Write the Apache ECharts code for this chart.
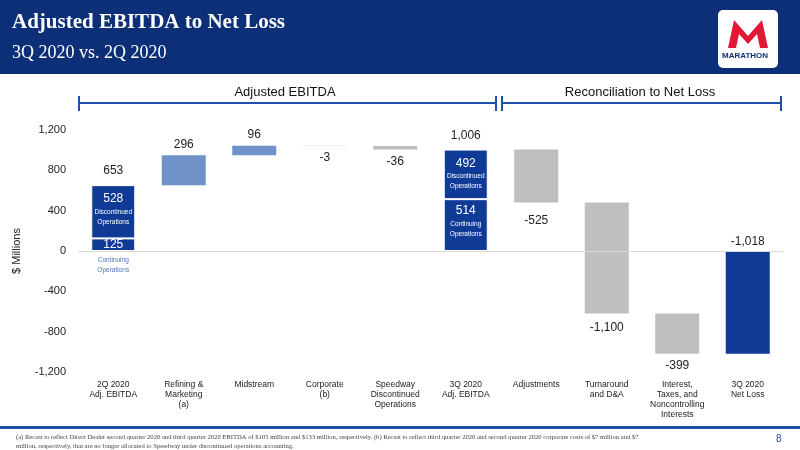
<!DOCTYPE html>
<html><head><meta charset="utf-8">
<script src="https://cdn.jsdelivr.net/npm/echarts@6/dist/echarts.min.js"></script>
<style>html,body{margin:0;padding:0;background:#fff}#c{width:800px;height:450px}</style>
</head><body><div id="c"></div>
<script>
var categories = ['2Q 2020\nAdj. EBITDA', 'Refining &\nMarketing\n(a)', 'Midstream', 'Corporate\n(b)',
  'Speedway\nDiscontinued\nOperations', '3Q 2020\nAdj. EBITDA', 'Adjustments', 'Turnaround\nand D&A',
  'Interest,\nTaxes, and\nNoncontrolling\nInterests', '3Q 2020\nNet Loss'];
var baseVals = ['-', 653, 949, 1042, 1006, '-', 481, '-', -619, '-'];
var contVals = [125, '-', '-', '-', '-', 514, '-', '-', '-', '-'];
var discVals = [528, '-', '-', '-', '-', 492, '-', '-', '-', '-'];
var upVals = ['-', 296, 96, '-', '-', '-', '-', '-', '-', '-'];
var downVals = ['-', '-', '-', 3, 36, '-', 525, 481, -399, '-'];
var downNegVals = ['-', '-', '-', '-', '-', '-', '-', -619, '-', '-'];
var totalVals = ['-', '-', '-', '-', '-', '-', '-', '-', '-', -1018];
var ebitdaTotals = [[0, 653], [5, 1006]];
var deltaLabels = ['', '296', '96', '-3', '-36', '', '-525', '-1,100', '-399', ''];

var navy = '#0f3a96', light = '#6f93c9', gray = '#bfbfbf';
var chart = echarts.init(document.getElementById('c'));
var lab = {color: '#222', fontSize: 12, fontFamily: 'Liberation Sans'};

function withLabels(vals, fn) {
  return vals.map(function (v, i) {
    if (v === '-') return v;
    var l = fn(i);
    return l ? {value: v, label: l} : v;
  });
}

chart.setOption({
  animation: false,
  grid: {left: 78, right: 17, top: 130, bottom: 78},
  xAxis: {type: 'category', data: categories, position: 'bottom',
    axisLine: {show: false}, axisTick: {show: false},
    axisLabel: {interval: 0, fontSize: 8.5, color: '#222', lineHeight: 10, margin: 8, fontFamily: 'Liberation Sans',
      verticalAlign: 'top'}},
  yAxis: {type: 'value', min: -1200, max: 1200, interval: 400,
    name: '$ Millions', nameLocation: 'middle', nameGap: 56, nameRotate: 90,
    nameTextStyle: {fontSize: 11, color: '#222'},
    splitLine: {show: false}, axisLine: {show: false}, axisTick: {show: false},
    axisLabel: {fontSize: 11, color: '#222', margin: 12,
      formatter: function (v) { return v.toLocaleString('en-US'); }}},
  series: [
    {type: 'bar', stack: 'w', barWidth: 44, data: baseVals, itemStyle: {color: 'transparent'}, silent: true},
    {type: 'bar', stack: 'w', data: withLabels(contVals, function (i) {
      return {show: true, position: i === 0 ? 'inside' : 'insideTop', distance: 4,
        formatter: i === 0 ? '{a|125}' : '{a|514}\n{b|Continuing}\n{b|Operations}',
        rich: {a: {color: '#fff', fontSize: 12, lineHeight: 16}, b: {color: '#fff', fontSize: 6.5, lineHeight: 10}}};
    }), itemStyle: {color: navy, borderColor: '#fff', borderWidth: 1},
      markPoint: {symbolSize: 0, data: [{coord: [0, 0]}],
        label: {show: true, position: 'bottom', distance: 4, formatter: 'Continuing\nOperations',
          color: '#4a74c0', fontSize: 6.5, lineHeight: 10}}},
    {type: 'bar', stack: 'w', data: withLabels(discVals, function (i) {
      return {show: true, position: 'insideTop', distance: 6,
        formatter: '{a|' + (i === 0 ? '528' : '492') + '}\n{b|Discontinued}\n{b|Operations}',
        rich: {a: {color: '#fff', fontSize: 12, lineHeight: 16}, b: {color: '#fff', fontSize: 6.5, lineHeight: 10}}};
    }), itemStyle: {color: navy, borderColor: '#fff', borderWidth: 1},
      markPoint: {symbolSize: 0, data: ebitdaTotals.map(function (d) { return {coord: d, value: d[1]}; }),
        label: Object.assign({show: true, position: 'top', distance: 8,
          formatter: function (p) { return p.value.toLocaleString('en-US'); }}, lab)}},
    {type: 'bar', stack: 'w', data: withLabels(upVals, function (i) {
      return Object.assign({show: true, position: 'top', formatter: deltaLabels[i]}, lab);
    }), itemStyle: {color: light}},
    {type: 'bar', stack: 'w', data: withLabels(downVals, function (i) {
      if (i === 7) return null;
      return Object.assign({show: true, position: 'bottom', distance: i === 6 ? 12 : 6, formatter: deltaLabels[i]}, lab);
    }), itemStyle: {color: gray}},
    {type: 'bar', stack: 'w', data: withLabels(downNegVals, function (i) {
      return Object.assign({show: true, position: 'bottom', distance: 8, formatter: deltaLabels[i]}, lab);
    }), itemStyle: {color: gray}},
    {type: 'bar', stack: 'w', data: withLabels(totalVals, function () {
      return Object.assign({show: true, position: 'insideTop', offset: [0, -20], formatter: '-1,018'}, lab);
    }), itemStyle: {color: navy}},
    {type: 'line', data: [], markLine: {silent: true, symbol: 'none', label: {show: false},
      lineStyle: {color: '#d9d9d9', type: 'solid', width: 1}, data: [{yAxis: 0}]}}
  ],
  graphic: [
    {type: 'rect', shape: {x: 0, y: 0, width: 800, height: 74}, style: {fill: '#0d2f78'}},
    {type: 'text', left: 12, top: 12, style: {text: 'Adjusted EBITDA to Net Loss', fill: '#fff',
      font: 'bold 21px "Liberation Serif"'}},
    {type: 'text', left: 12, top: 44, style: {text: '3Q 2020 vs. 2Q 2020', fill: '#fff',
      font: '18px "Liberation Serif"'}},
    {type: 'rect', shape: {x: 718, y: 10, width: 60, height: 58, r: 5}, style: {fill: '#fff'}},
    {type: 'polygon', shape: {points: [[728, 48], [734, 20], [748, 36], [762, 20], [768, 48], [760, 48], [757, 34], [748, 44], [739, 34], [736, 48]]},
      style: {fill: '#e31837'}},
    {type: 'text', left: 722, top: 52, style: {text: 'MARATHON', fill: '#0d2f78', font: 'bold 8px "Liberation Sans"'}},
    {type: 'text', x: 285, y: 86, style: {text: 'Adjusted EBITDA', fill: '#111', font: '13px "Liberation Sans"', textAlign: 'center'}},
    {type: 'text', x: 640, y: 86, style: {text: 'Reconciliation to Net Loss', fill: '#111', font: '13px "Liberation Sans"', textAlign: 'center'}},
    {type: 'line', shape: {x1: 79, y1: 103, x2: 496, y2: 103}, style: {stroke: '#1f4fa8', lineWidth: 2}},
    {type: 'line', shape: {x1: 79, y1: 96, x2: 79, y2: 111}, style: {stroke: '#1f4fa8', lineWidth: 2}},
    {type: 'line', shape: {x1: 496, y1: 96, x2: 496, y2: 111}, style: {stroke: '#1f4fa8', lineWidth: 2}},
    {type: 'line', shape: {x1: 502, y1: 103, x2: 781, y2: 103}, style: {stroke: '#1f4fa8', lineWidth: 2}},
    {type: 'line', shape: {x1: 502, y1: 96, x2: 502, y2: 111}, style: {stroke: '#1f4fa8', lineWidth: 2}},
    {type: 'line', shape: {x1: 781, y1: 96, x2: 781, y2: 111}, style: {stroke: '#1f4fa8', lineWidth: 2}},
    {type: 'rect', shape: {x: 0, y: 426, width: 800, height: 3}, style: {fill: '#1f4fa8'}},
    {type: 'text', left: 16, top: 433, style: {text:
      '(a) Recast to reflect Direct Dealer second quarter 2020 and third quarter 2020 EBITDA of $105 million and $133 million, respectively. (b) Recast to reflect third quarter 2020 and second quarter 2020 corporate costs of $7 million and $7\nmillion, respectively, that are no longer allocated to Speedway under discontinued operations accounting.',
      fill: '#444', font: '6.6px "Liberation Serif"', lineHeight: 9}},
    {type: 'text', left: 776, top: 434, style: {text: '8', fill: '#1f4fa8', font: '10px "Liberation Sans"'}}
  ]
});
</script>
</body></html>
